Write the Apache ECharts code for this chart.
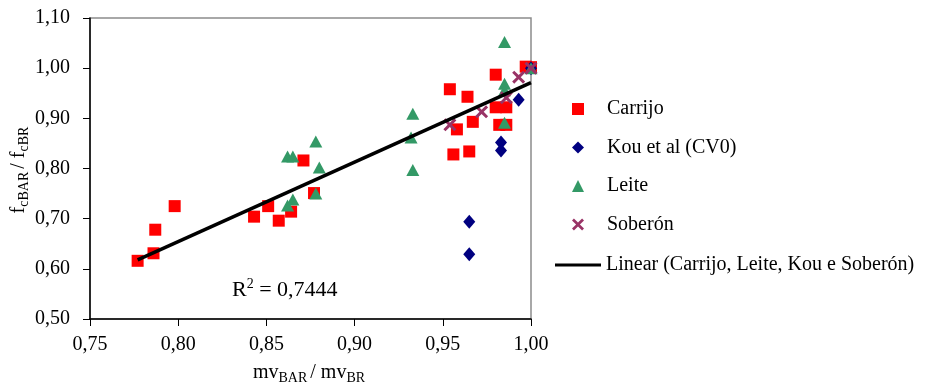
<!DOCTYPE html>
<html>
<head>
<meta charset="utf-8">
<script src="https://cdn.jsdelivr.net/npm/echarts@6/dist/echarts.min.js"></script>
<style>
  html, body { margin: 0; padding: 0; background: #fff; }
  #chart { width: 940px; height: 390px; }
</style>
</head>
<body>
<div id="chart"></div>
<script>
// 数据 (mv_BAR/mv_BR, fc_BAR/fc_BR)
var carrijo = [
  [0.777, 0.616], [0.786, 0.631], [0.787, 0.678], [0.798, 0.725],
  [0.843, 0.704], [0.851, 0.725], [0.857, 0.696], [0.864, 0.714],
  [0.871, 0.816], [0.877, 0.751], [0.954, 0.958], [0.964, 0.943],
  [0.980, 0.987], [0.997, 1.003], [1.000, 1.002], [0.958, 0.878],
  [0.967, 0.893], [0.980, 0.922], [0.986, 0.922], [0.982, 0.887],
  [0.986, 0.887], [0.956, 0.828], [0.965, 0.834]
];
var kou = [
  [1.000, 1.000], [0.993, 0.937], [0.983, 0.852], [0.983, 0.836],
  [0.965, 0.694], [0.965, 0.629]
];
var leite = [
  [0.985, 1.052], [0.985, 0.969], [0.985, 0.956], [0.985, 0.891],
  [1.000, 1.000], [0.933, 0.909], [0.932, 0.862], [0.933, 0.797],
  [0.878, 0.854], [0.880, 0.802], [0.878, 0.750], [0.862, 0.824],
  [0.865, 0.824], [0.862, 0.726], [0.865, 0.738]
];
var soberon = [
  [0.954, 0.887], [0.972, 0.913], [0.986, 0.941], [0.993, 0.982], [1.000, 1.000]
];
// 趋势线两端
var trendLine = [[0.777, 0.618], [1.000, 0.971]];
var xTicks = [0.75, 0.80, 0.85, 0.90, 0.95, 1.00];
var yTicks = [0.50, 0.60, 0.70, 0.80, 0.90, 1.00, 1.10];
var r2Text = "0,7444";
var trendName = "Linear (Carrijo, Leite, Kou e Soberón)";

var font = "Liberation Serif";
var fmt = function (v) { return v.toFixed(2).replace(".", ","); };
var xSymbol = "path://M0,1.6 L1.6,0 L5,3.4 L8.4,0 L10,1.6 L6.6,5 L10,8.4 L8.4,10 L5,6.6 L1.6,10 L0,8.4 L3.4,5 Z";
var subRich = {
  n: { fontSize: 20, fontFamily: font, color: "#000", lineHeight: 24 },
  s: { fontSize: 14, fontFamily: font, color: "#000", lineHeight: 14, verticalAlign: "bottom", padding: [0, 3, 0, 0] }
};

var myChart = echarts.init(document.getElementById("chart"));
var option = {
  animation: false,
  textStyle: { fontFamily: font, color: "#000" },
  grid: {
    left: 90, right: 409, top: 18, bottom: 65,
    show: true, borderColor: "#8c8c8c", borderWidth: 1.5
  },
  xAxis: {
    type: "value",
    min: xTicks[0], max: xTicks[xTicks.length - 1], interval: 0.05,
    axisLine: { lineStyle: { color: "#000", width: 1.5 } },
    axisTick: { length: 7, lineStyle: { color: "#000" } },
    splitLine: { show: false },
    axisLabel: { fontSize: 20, margin: 16, color: "#000", fontFamily: font, formatter: fmt },
    name: "{n|mv}{s|BAR}{n|/ mv}{s|BR}",
    nameLocation: "middle",
    nameGap: 42,
    nameTextStyle: { rich: subRich }
  },
  yAxis: {
    type: "value",
    min: yTicks[0], max: yTicks[yTicks.length - 1], interval: 0.1,
    axisLine: { lineStyle: { color: "#000", width: 1.5 } },
    axisTick: { length: 7, lineStyle: { color: "#000" } },
    splitLine: { show: false },
    axisLabel: { fontSize: 20, margin: 20, color: "#000", fontFamily: font, formatter: fmt },
    name: "{n|f}{s|cBAR}{n|/ f}{s|cBR}",
    nameLocation: "middle",
    nameGap: 59,
    nameTextStyle: { rich: subRich }
  },
  legend: [
    {
      orient: "vertical",
      left: 567, top: 94,
      itemWidth: 12, itemHeight: 12, itemGap: 18.5,
      textStyle: { fontSize: 20, fontFamily: font, color: "#000", padding: [0, 0, 0, 18] },
      data: ["Carrijo", "Kou et al (CV0)", "Leite", "Soberón"]
    },
    {
      orient: "vertical",
      left: 550, top: 250,
      itemWidth: 46, itemHeight: 3,
      textStyle: { fontSize: 20, fontFamily: font, color: "#000" },
      data: [{ name: trendName, icon: "rect" }]
    }
  ],
  graphic: [{
    type: "text",
    left: 232, top: 277,
    style: {
      text: "{n|R}{p|2}{n| = " + r2Text + "}",
      rich: {
        n: { fontSize: 22, fontFamily: font, fill: "#000", lineHeight: 26 },
        p: { fontSize: 14, fontFamily: font, fill: "#000", lineHeight: 26, verticalAlign: "top", padding: [0, 0, 8, 0] }
      }
    }
  }],
  series: [
    {
      name: "Carrijo", type: "scatter", data: carrijo,
      symbol: "rect", symbolSize: 12,
      itemStyle: { color: "#ff0000", opacity: 1 }
    },
    {
      name: "Kou et al (CV0)", type: "scatter", data: kou,
      symbol: "diamond", symbolSize: [12, 14],
      itemStyle: { color: "#000080", opacity: 1 }
    },
    {
      name: "Leite", type: "scatter", data: leite,
      symbol: "triangle", symbolSize: [13, 12],
      itemStyle: { color: "#339966", opacity: 1 }
    },
    {
      name: "Soberón", type: "scatter", data: soberon,
      symbol: xSymbol, symbolSize: 13,
      itemStyle: { color: "#993366", opacity: 1 }
    },
    {
      name: trendName, type: "line", data: trendLine,
      symbol: "none",
      lineStyle: { color: "#000", width: 3.5 },
      itemStyle: { color: "#000" }
    }
  ]
};
myChart.setOption(option);
</script>
</body>
</html>
